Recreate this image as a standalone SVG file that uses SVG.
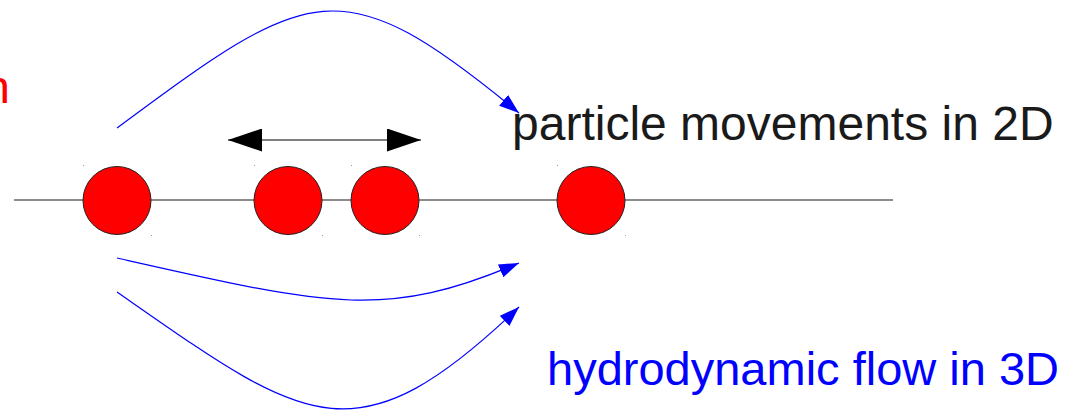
<svg xmlns="http://www.w3.org/2000/svg" width="1083" height="410" viewBox="0 0 1083 410">
  <style>
    .axis { stroke: #666666; stroke-width: 1.3; fill: none; }
    .particle { fill: #ff0000; stroke: #222222; stroke-width: 1; }
    .flow { stroke: #0000ff; stroke-width: 1.2; fill: none; marker-end: url(#blueArrow); }
    .move { stroke: #555555; stroke-width: 1.6; fill: none; marker-start: url(#blackArrowStart); marker-end: url(#blackArrowEnd); }
    .lbl { font-family: "Liberation Sans", Arial, sans-serif; font-size: 47px; }
    .dot { fill: #999999; }
  </style>
  <defs>
    <marker id="blueArrow" markerUnits="userSpaceOnUse" markerWidth="22" markerHeight="16" refX="20" refY="7" orient="auto" viewBox="0 0 22 16">
      <path d="M0,0 L20,7 L0,14 Z" fill="#0000ff"/>
    </marker>
    <marker id="blackArrowEnd" markerUnits="userSpaceOnUse" markerWidth="36" markerHeight="24" refX="34" refY="11.5" orient="auto" viewBox="0 0 36 24">
      <path d="M0,0 L34,11.5 L0,23 Z" fill="#000000"/>
    </marker>
    <marker id="blackArrowStart" markerUnits="userSpaceOnUse" markerWidth="36" markerHeight="24" refX="0" refY="11.5" orient="auto" viewBox="0 0 36 24">
      <path d="M34,0 L0,11.5 L34,23 Z" fill="#000000"/>
    </marker>
  </defs>

  <g id="axis">
    <line class="axis" x1="14" y1="200" x2="893" y2="200"/>
  </g>

  <g id="connectors">
    <path id="flow-top" class="flow" d="M117,128 C310,-15 340,-35 519,113"/>
    <path id="flow-mid" class="flow" d="M117,258 C330,306 385,320 519,263"/>
    <path id="flow-bottom" class="flow" d="M117,292 C305,423 354,465 519,307"/>
    <path id="movement" class="move" d="M228,140 L421,140"/>
  </g>

  <g id="particle-1">
    <circle class="particle" cx="117" cy="200.5" r="34"/>
    <rect class="dot" x="83" y="165" width="1" height="1"/>
    <rect class="dot" x="151" y="235" width="1" height="1"/>
  </g>
  <g id="particle-2">
    <circle class="particle" cx="288" cy="200.5" r="34"/>
    <rect class="dot" x="254" y="165" width="1" height="1"/>
    <rect class="dot" x="322" y="235" width="1" height="1"/>
  </g>
  <g id="particle-3">
    <circle class="particle" cx="385" cy="200.5" r="34"/>
    <rect class="dot" x="351" y="165" width="1" height="1"/>
    <rect class="dot" x="419" y="235" width="1" height="1"/>
  </g>
  <g id="particle-4">
    <circle class="particle" cx="591" cy="200.5" r="34"/>
    <rect class="dot" x="557" y="165" width="1" height="1"/>
    <rect class="dot" x="625" y="235" width="1" height="1"/>
  </g>

  <g id="label-left">
    <text class="lbl" x="10" y="103" text-anchor="end" fill="#ff0000">n</text>
  </g>
  <g id="label-2d">
    <text class="lbl" x="512" y="140" fill="#1a1a1a" style="font-size:48px">particle movements in 2D</text>
  </g>
  <g id="label-3d">
    <text class="lbl" x="547" y="385" fill="#0000ff">hydrodynamic flow in 3D</text>
  </g>
</svg>
